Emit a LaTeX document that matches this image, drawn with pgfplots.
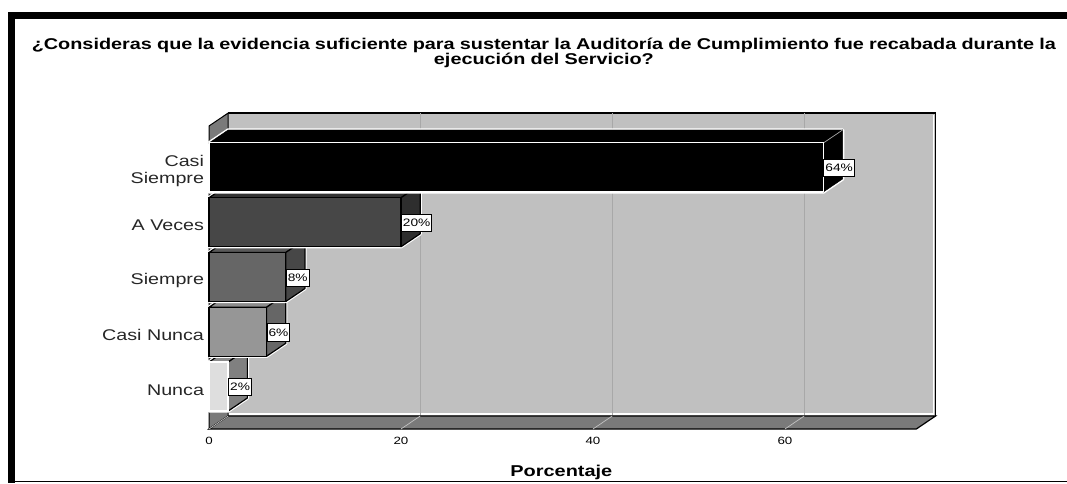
\documentclass[border=0pt]{standalone}
\usepackage{fontspec}
\setmainfont{Liberation Sans}[FakeStretch=1.27]
\usepackage{pgfplots}
\pgfplotsset{compat=1.18}
\definecolor{wall}{HTML}{C0C0C0}
\definecolor{floorc}{HTML}{7A7A7A}
\definecolor{gridc}{HTML}{A8A8A8}
\tikzset{face/.style={fill=#1,draw=black,line width=1.2pt,line join=round},
 halo/.style={fill=white,draw=white,line width=3.4pt,line join=round},
 dlab/.style={fill=white,draw=black,line width=1pt,inner xsep=1.5pt,inner ysep=0pt,minimum height=17.5pt,anchor=west,font=\fontsize{10.8}{11}\selectfont}}
\begin{document}
\begin{tikzpicture}[x=1pt,y=1pt]
\path[use as bounding box] (0,0) rectangle (1067,483);
\fill[black] (8,0) rectangle (15,471);
\fill[black] (8,464) rectangle (1067,471);
\fill[black] (8,0.8) rectangle (1067,2.4);
\begin{axis}[
 at={(209pt,54pt)},anchor=south west,scale only axis,width=726.5pt,height=316pt,
 xmin=0,xmax=75.68,ymin=-0.776,ymax=4.995,clip=false,
 axis line style={draw=none},
 xtick={0,20,40,60},tick style={draw=none},
 ytick={0,1,2,3,4},
 yticklabels={Nunca,Casi Nunca,Siempre,A Veces,{Casi\\Siempre}},
 yticklabel style={align=right,font=\fontsize{15.5}{17}\selectfont,yshift=-3.5pt,xshift=-1.5pt,text=black!85},
 xticklabel style={font=\fontsize{10.5}{12}\selectfont,yshift=-5pt},
 /pgf/number format/assume math mode=true,
 xlabel={Porcentaje},
 xlabel style={at={(axis description cs:0.485,-0.138)},anchor=center,font=\bfseries\fontsize{15.7}{16}\selectfont},
 title={¿Consideras que la evidencia suficiente para sustentar la Auditoría de Cumplimiento fue recabada durante la\\ejecución del Servicio?},
 title style={at={(axis description cs:0.461,1.17)},anchor=center,align=center,text width=1060pt,font=\bfseries\fontsize{15.62}{15}\selectfont},
]
% back wall
\addplot[fill=wall,draw=none] coordinates {(2,-0.539)(75.68,-0.539)(75.68,4.995)(2,4.995)} --cycle;
\addplot[white,line width=1.6pt] coordinates {(2,-0.505)(75.45,-0.505)(75.45,4.96)};
\addplot[black,line width=1.4pt] coordinates {(2,4.995)(75.68,4.995)(75.68,-0.539)};
% grid
\addplot[gridc,line width=0.9pt] coordinates {(22,-0.539)(22,4.995)};
\addplot[gridc,line width=0.9pt] coordinates {(42,-0.539)(42,4.995)};
\addplot[gridc,line width=0.9pt] coordinates {(62,-0.539)(62,4.995)};
% left wall and floor
\addplot[fill=floorc,draw=black,line width=1pt] coordinates {(0,-0.776)(2,-0.539)(2,4.995)(0,4.758)} --cycle;
\addplot[fill=floorc,draw=black,line width=1.2pt] coordinates {(0,-0.776)(73.68,-0.776)(75.68,-0.539)(2,-0.539)} --cycle;
\addplot[gridc!70!white,line width=0.7pt] coordinates {(0,-0.776)(2,-0.539)};
\addplot[gridc!70!white,line width=0.7pt] coordinates {(20,-0.776)(22,-0.539)};
\addplot[gridc!70!white,line width=0.7pt] coordinates {(40,-0.776)(42,-0.539)};
\addplot[gridc!70!white,line width=0.7pt] coordinates {(60,-0.776)(62,-0.539)};
% Nunca
\addplot[halo] coordinates {(0,-0.4475)(2,-0.4475)(4,-0.2101)(4,0.6849)(2,0.6849)(0,0.4475)} --cycle;
\addplot[face=black!45] coordinates {(0,0.4475)(2,0.6849)(4,0.6849)(2,0.4475)} --cycle;
\addplot[face=black!50] coordinates {(2,-0.4475)(4,-0.2101)(4,0.6849)(2,0.4475)} --cycle;
\addplot[xbar,bar shift=0pt,bar width=49pt,fill=black!13,draw=white,line width=1.6pt] coordinates {(2,0)};
% Casi Nunca
\addplot[halo] coordinates {(0,0.5525)(6,0.5525)(8,0.7899)(8,1.6849)(2,1.6849)(0,1.4475)} --cycle;
\addplot[face=black!45] coordinates {(0,1.4475)(2,1.6849)(8,1.6849)(6,1.4475)} --cycle;
\addplot[face=black!60] coordinates {(6,0.5525)(8,0.7899)(8,1.6849)(6,1.4475)} --cycle;
\addplot[xbar,bar shift=0pt,bar width=49pt,fill=black!41,draw=black,line width=1.1pt] coordinates {(6,1)};
% Siempre
\addplot[halo] coordinates {(0,1.5525)(8,1.5525)(10,1.7899)(10,2.6849)(2,2.6849)(0,2.4475)} --cycle;
\addplot[face=black!65] coordinates {(0,2.4475)(2,2.6849)(10,2.6849)(8,2.4475)} --cycle;
\addplot[face=black!72] coordinates {(8,1.5525)(10,1.7899)(10,2.6849)(8,2.4475)} --cycle;
\addplot[xbar,bar shift=0pt,bar width=49pt,fill=black!60,draw=black,line width=1.1pt] coordinates {(8,2)};
% A Veces
\addplot[halo] coordinates {(0,2.5525)(20,2.5525)(22,2.7899)(22,3.6849)(2,3.6849)(0,3.4475)} --cycle;
\addplot[face=black!80] coordinates {(0,3.4475)(2,3.6849)(22,3.6849)(20,3.4475)} --cycle;
\addplot[face=black!82] coordinates {(20,2.5525)(22,2.7899)(22,3.6849)(20,3.4475)} --cycle;
\addplot[xbar,bar shift=0pt,bar width=49pt,fill=black!72,draw=black,line width=1.1pt] coordinates {(20,3)};
% Casi Siempre
\addplot[halo] coordinates {(0,3.5525)(64,3.5525)(66,3.7899)(66,4.6849)(2,4.6849)(0,4.4475)} --cycle;
\addplot[fill=black,draw=black] coordinates {(0,4.4475)(2,4.6849)(66,4.6849)(64,4.4475)} --cycle;
\addplot[fill=black,draw=black] coordinates {(64,3.5525)(66,3.7899)(66,4.6849)(64,4.4475)} --cycle;
\addplot[gridc,line width=0.7pt] coordinates {(64,4.4475)(66,4.6849)};
\addplot[xbar,bar shift=0pt,bar width=49pt,fill=black,draw=white,line width=1pt] coordinates {(64,4)};
% data labels
\node[dlab] at (axis cs:64,3.99) {64\%};
\node[dlab] at (axis cs:20,2.99) {20\%};
\node[dlab] at (axis cs:8,1.985) {8\%};
\node[dlab] at (axis cs:6,0.99) {6\%};
\node[dlab] at (axis cs:2,-0.01) {2\%};
\end{axis}
\end{tikzpicture}
\end{document}
